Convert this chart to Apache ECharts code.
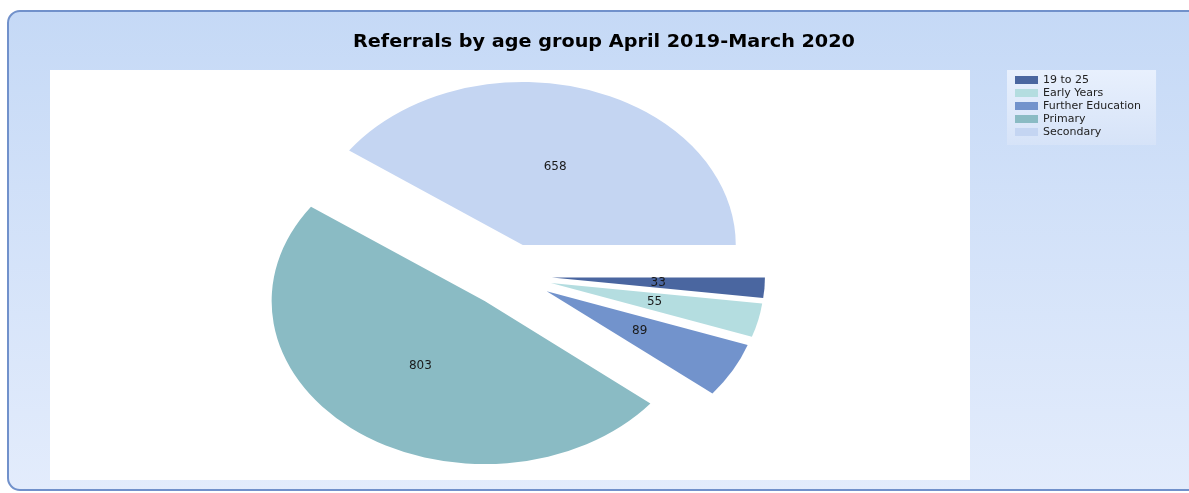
<!DOCTYPE html>
<html>
<head>
<meta charset="utf-8">
<script src="https://cdn.jsdelivr.net/npm/echarts@6/dist/echarts.min.js"></script>
<style>
  html, body { margin: 0; padding: 0; background: #ffffff; }
  #chart { width: 1189px; height: 493px; }
</style>
</head>
<body>
<div id="chart"></div>
<script>
// Referral counts per age group
const categories = ['19 to 25', 'Early Years', 'Further Education', 'Primary', 'Secondary'];
const referrals = [33, 55, 89, 803, 658];
const chartTitle = 'Referrals by age group April 2019-March 2020';
const sliceColors = ['#4a66a0', '#b4dde0', '#7293cc', '#8abbc4', '#c4d5f2'];

// Pie geometry: an ellipse (circle squashed vertically) with every slice pulled out
const pie = { cx: 510, cy: 275.5, r: 213, squash: 0.765, explode: 42, labelAt: 0.5 };

const total = referrals.reduce((a, b) => a + b, 0);
const startShare = referrals.map((v, i) => referrals.slice(0, i).reduce((a, b) => a + b, 0));

function sliceRenderer(idx) {
  return function (params, api) {
    const value = api.value(0);
    const a0 = startShare[idx] / total * Math.PI * 2;
    const a1 = a0 + value / total * Math.PI * 2;
    const mid = (a0 + a1) / 2;
    const ox = pie.cx + pie.explode * Math.cos(mid);
    const oy = pie.cy + pie.explode * Math.sin(mid);
    const lr = pie.explode + pie.r * pie.labelAt;
    return {
      type: 'group',
      children: [
        {
          type: 'sector',
          shape: { cx: ox, cy: oy, r0: 0, r: pie.r, startAngle: a0, endAngle: a1, clockwise: true },
          originX: pie.cx,
          originY: pie.cy,
          scaleY: pie.squash,
          style: { fill: api.visual('color') }
        },
        {
          type: 'text',
          x: pie.cx + lr * Math.cos(mid),
          y: pie.cy + lr * Math.sin(mid) * pie.squash,
          z2: 10,
          style: {
            text: String(value),
            fill: '#1a1a1a',
            font: '12px "DejaVu Sans", Verdana, sans-serif',
            textAlign: 'center',
            textVerticalAlign: 'middle'
          }
        }
      ]
    };
  };
}

const chart = echarts.init(document.getElementById('chart'), null, { renderer: 'canvas' });

chart.setOption({
  animation: false,
  graphic: [
    {
      type: 'rect',
      z: -10,
      shape: { x: 8, y: 11, width: 1195, height: 479, r: 12 },
      style: {
        fill: new echarts.graphic.LinearGradient(0, 0, 0, 1, [
          { offset: 0, color: '#c5d9f6' },
          { offset: 1, color: '#e3ecfc' }
        ]),
        stroke: '#7191cb',
        lineWidth: 2
      }
    },
    {
      type: 'rect',
      z: -9,
      shape: { x: 50, y: 70, width: 920, height: 410 },
      style: { fill: '#ffffff' }
    },
    {
      // chart title, stretched a little to the wide bold face
      type: 'text',
      z: 5,
      x: 604,
      y: 43,
      originX: 0,
      originY: 0,
      scaleX: 1.13,
      style: {
        text: chartTitle,
        font: 'bold 17px "DejaVu Sans", Verdana, sans-serif',
        fill: '#000000',
        textAlign: 'center',
        textVerticalAlign: 'middle'
      }
    }
  ],
  legend: {
    orient: 'vertical',
    left: 1007,
    top: 70,
    padding: [4, 15, 7, 8],
    itemWidth: 23,
    itemHeight: 8,
    itemGap: 1,
    icon: 'rect',
    selectedMode: false,
    backgroundColor: new echarts.graphic.LinearGradient(0, 0, 0, 1, [
      { offset: 0, color: '#e8f0fd' },
      { offset: 1, color: '#d6e3f8' }
    ]),
    textStyle: {
      fontFamily: '"DejaVu Sans", Verdana, sans-serif',
      fontSize: 11,
      lineHeight: 12,
      color: '#222222'
    },
    data: categories
  },
  series: categories.map((name, i) => ({
    type: 'custom',
    name: name,
    coordinateSystem: 'none',
    color: sliceColors[i],
    data: [[referrals[i]]],
    renderItem: sliceRenderer(i)
  }))
});
</script>
</body>
</html>
